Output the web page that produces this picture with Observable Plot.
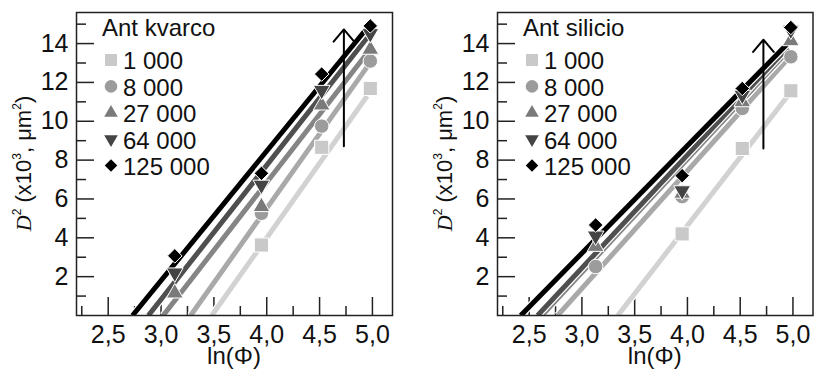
<!DOCTYPE html>
<html><head><meta charset="utf-8">
<script src="https://cdn.jsdelivr.net/npm/d3@7"></script>
<script src="https://cdn.jsdelivr.net/npm/@observablehq/plot@0.6"></script>
<style>
body{margin:0;background:#fff}
#wrap{position:relative;width:814px;height:369px;background:#fff}
.panel{position:absolute;top:0}
</style>
</head><body><div id="wrap"></div>
<script>
// ---- data ----
const lnPhi = [3.13, 3.95, 4.52, 4.98];
const seriesNames = ["1 000", "8 000", "27 000", "64 000", "125 000"];

// Ant kvarco (D² ×10³ µm²) per series
const kvarco1000   = [null, 3.63, 8.66, 11.69];
const kvarco8000   = [null, 5.26, 9.75, 13.10];
const kvarco27000  = [1.15, 5.60, 10.83, 13.70];
const kvarco64000  = [2.20, 6.72, 11.60, 14.52];
const kvarco125000 = [3.07, 7.32, 12.43, 14.91];
// fitted lines: x where D²=0, and upper end (x, y)
const kvarcoFitX0 = [3.48, 3.28, 3.02, 2.88, 2.73];
const kvarcoFitX1 = [4.95, 4.95, 4.95, 4.95, 4.95];
const kvarcoFitY1 = [11.3, 12.8, 13.5, 14.3, 14.8];
const kvarcoArrow = {x: 4.73, y1: 8.72, y2: 14.73};

// Ant silicio
const silicio1000   = [null, 4.20, 8.60, 11.57];
const silicio8000   = [2.52, 6.12, 10.66, 13.32];
const silicio27000  = [3.55, 6.29, 11.00, 14.14];
const silicio64000  = [4.10, 6.43, 11.35, 14.70];
const silicio125000 = [4.66, 7.20, 11.69, 14.83];
const silicioFitX0 = [3.34, 2.77, 2.62, 2.58, 2.42];
const silicioFitX1 = [4.95, 4.95, 4.95, 4.95, 4.95];
const silicioFitY1 = [11.3, 13.2, 13.6, 13.8, 14.0];
const silicioArrow = {x: 4.72, y1: 8.6, y2: 14.2};

// ticks
const xMajor = [2.5, 3.0, 3.5, 4.0, 4.5, 5.0];
const xMinor = [2.25, 2.75, 3.25, 3.75, 4.25, 4.75];
const yMajor = [2, 4, 6, 8, 10, 12, 14];
const yMinor = [1, 3, 5, 7, 9, 11, 13, 15];

// ---- styles ----
const markerFill = ["#c9c9c9", "#9c9c9c", "#7a7a7a", "#444444", "#000000"];
const lineColor  = ["#d2d2d2", "#a9a9a9", "#858585", "#4f4f4f", "#000000"];
const triUp = {draw(ctx, size){const s=Math.sqrt(size*4/Math.sqrt(3)),h=s*Math.sqrt(3)/2;ctx.moveTo(0,-2*h/3);ctx.lineTo(s/2,h/3);ctx.lineTo(-s/2,h/3);ctx.closePath();}};
const triDown = {draw(ctx, size){const s=Math.sqrt(size*4/Math.sqrt(3)),h=s*Math.sqrt(3)/2;ctx.moveTo(0,2*h/3);ctx.lineTo(s/2,-h/3);ctx.lineTo(-s/2,-h/3);ctx.closePath();}};
const plotSymbols = ["square", "circle", triUp, triDown, "diamond2"];
const d3Symbols = [d3.symbolSquare, d3.symbolCircle, triUp, triDown, d3.symbolDiamond2];
const plotAreas = [200, 165, 122, 122, 135];
const legendAreas = [144, 125, 80, 80, 100];
const FONT = "'Liberation Sans', Arial, Helvetica, sans-serif";
const FS = 24;
const TFS = 25;

function makePanel({left, width, marginLeft, marginRight, title, series, fitX0, fitX1, fitY1, arrow}) {
  const marginTop = 12, marginBottom = 54, height = 369;
  const innerW = width - marginLeft - marginRight;
  const innerH = height - marginTop - marginBottom;
  const marks = [];
  // inward ticks
  marks.push(Plot.tickX(xMajor, {x: d => d, insetTop: innerH - 18, stroke: "#222", strokeWidth: 1.5}));
  marks.push(Plot.tickX(xMinor, {x: d => d, insetTop: innerH - 9, stroke: "#222", strokeWidth: 1.5}));
  marks.push(Plot.tickY(yMajor, {y: d => d, insetRight: innerW - 18, stroke: "#222", strokeWidth: 1.5}));
  marks.push(Plot.tickY(yMinor, {y: d => d, insetRight: innerW - 10, stroke: "#222", strokeWidth: 1.5}));
  // fit lines
  series.forEach((vals, i) => {
    const seg = [{x: fitX0[i], y: 0}, {x: fitX1[i], y: fitY1[i]}];
    marks.push(Plot.line(seg, {x: "x", y: "y", stroke: "white", strokeWidth: 7.5, strokeLinecap: "butt", clip: true}));
    marks.push(Plot.line(seg, {x: "x", y: "y", stroke: lineColor[i], strokeWidth: 5, strokeLinecap: "butt", clip: true}));
  });
  // points
  series.forEach((vals, i) => {
    const pts = lnPhi.map((x, j) => ({x, y: vals[j]})).filter(d => d.y != null);
    marks.push(Plot.dot(pts, {x: "x", y: "y", symbol: plotSymbols[i], r: Math.sqrt(plotAreas[i] / Math.PI),
      fill: markerFill[i], stroke: "white", strokeWidth: 1}));
  });
  // arrow
  marks.push(Plot.arrow([arrow], {x1: "x", x2: "x", y1: "y1", y2: "y2", stroke: "#000", strokeWidth: 2,
    headLength: 12, headAngle: 80}));
  // tick labels
  marks.push(Plot.text(xMajor, {x: d => d, frameAnchor: "bottom", lineAnchor: "top", dy: 10,
    text: d => d.toFixed(1).replace(".", ","), fontSize: TFS, fill: "#111"}));
  marks.push(Plot.text(yMajor, {y: d => d, frameAnchor: "left", textAnchor: "end", dx: -8,
    text: d => String(d), fontSize: TFS, fill: "#111"}));
  marks.push(Plot.frame({stroke: "#222", strokeWidth: 1.5}));

  const svgNode = Plot.plot({
    width, height, marginLeft, marginRight, marginTop, marginBottom,
    x: {domain: [2.2, 5.19], axis: null},
    y: {domain: [0, 15.6], axis: null},
    style: {fontFamily: FONT, fontSize: FS + "px", color: "#111", background: "white", overflow: "visible"},
    marks
  });
  const svg = d3.select(svgNode);
  // legend
  const g = svg.append("g").attr("transform", `translate(${marginLeft},${marginTop})`)
    .attr("font-family", FONT).attr("font-size", FS).attr("fill", "#111").attr("text-anchor", "start");
  g.append("text").attr("x", 26).attr("y", 24).text(title);
  seriesNames.forEach((name, i) => {
    const cy = 48 + i * 26.4;
    g.append("path").attr("transform", `translate(35,${cy})`)
      .attr("d", d3.symbol().type(d3Symbols[i]).size(legendAreas[i])())
      .attr("fill", markerFill[i]);
    g.append("text").attr("x", 47).attr("y", 57.3 + i * 26.4).text(name);
  });
  // x label
  svg.append("text").attr("x", marginLeft + innerW / 2).attr("y", 364)
    .attr("text-anchor", "middle").attr("font-family", FONT).attr("font-size", FS).attr("fill", "#111")
    .text("ln(Φ)");
  // y label
  const yl = svg.append("text")
    .attr("transform", `translate(${marginLeft - 45},${marginTop + innerH / 2}) rotate(-90)`)
    .attr("text-anchor", "middle").attr("font-family", FONT).attr("font-size", 22).attr("fill", "#111");
  yl.append("tspan").attr("font-family", "'Liberation Serif', 'Times New Roman', serif").attr("font-style", "italic").text("D");
  yl.append("tspan").attr("font-size", 12).attr("dy", -10).text("2");
  yl.append("tspan").attr("dy", 10).text(" (x10");
  yl.append("tspan").attr("font-size", 12).attr("dy", -10).text("3");
  yl.append("tspan").attr("dy", 10).text(", μm");
  yl.append("tspan").attr("font-size", 12).attr("dy", -10).text("2");
  yl.append("tspan").attr("dy", 10).text(")");

  const div = document.createElement("div");
  div.className = "panel";
  div.style.left = left + "px";
  div.style.width = width + "px";
  div.appendChild(svgNode);
  document.getElementById("wrap").appendChild(div);
}

makePanel({left: 0, width: 410, marginLeft: 76, marginRight: 18, title: "Ant kvarco",
  series: [kvarco1000, kvarco8000, kvarco27000, kvarco64000, kvarco125000],
  fitX0: kvarcoFitX0, fitX1: kvarcoFitX1, fitY1: kvarcoFitY1, arrow: kvarcoArrow});
makePanel({left: 410, width: 404, marginLeft: 87, marginRight: 1.5, title: "Ant silicio",
  series: [silicio1000, silicio8000, silicio27000, silicio64000, silicio125000],
  fitX0: silicioFitX0, fitX1: silicioFitX1, fitY1: silicioFitY1, arrow: silicioArrow});
</script></body></html>
